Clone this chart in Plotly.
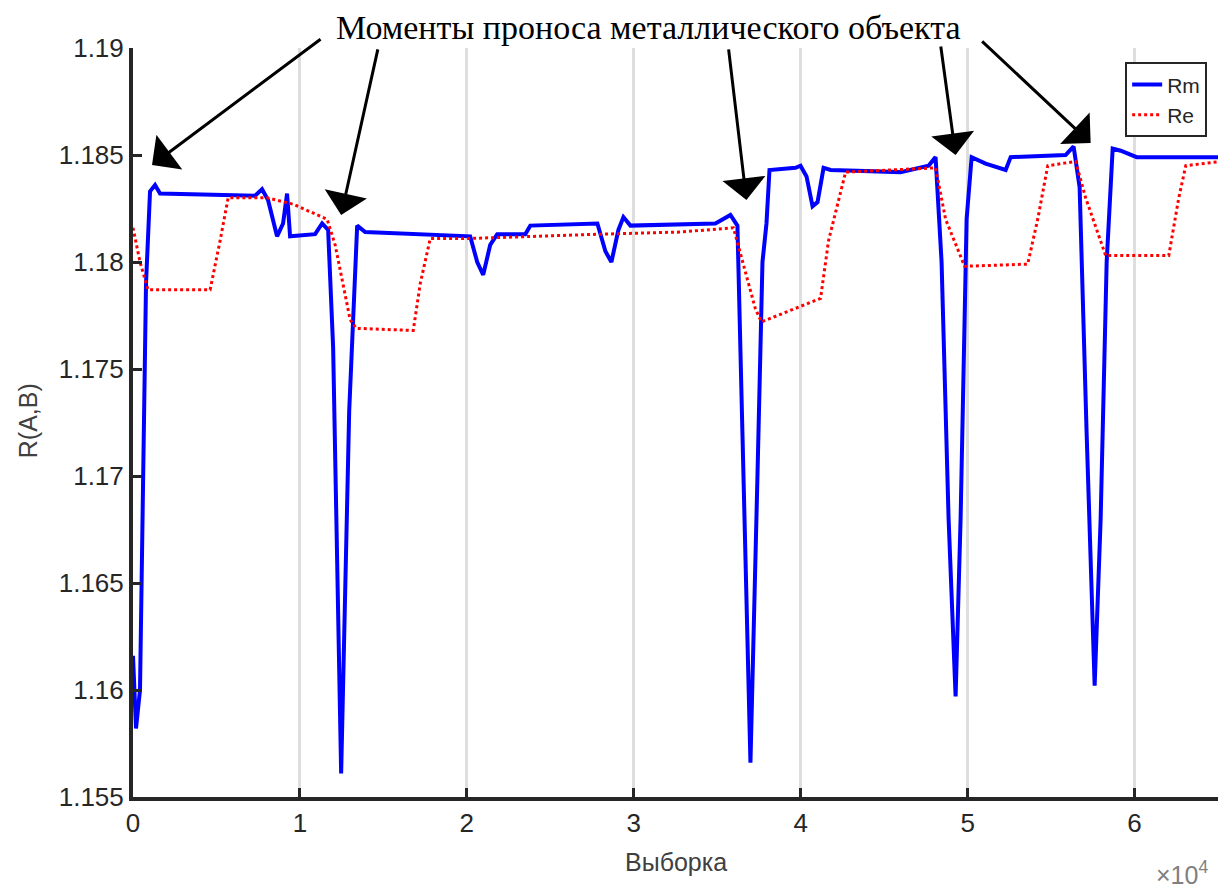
import plotly.graph_objects as go

# ---------------- data ----------------
rm_x = [0, 180, 420, 780, 1020, 1320, 1620, 7310, 7730, 8090, 8630, 8990, 9230, 9410,
        10910, 11330, 11690, 11990, 12470, 12950, 13430, 13910, 20200, 20620, 20980,
        21400, 21820, 23500, 23800, 27820, 28300, 28660, 29080, 29380, 29800, 34890,
        35790, 36210, 36510, 36990, 37410, 37710, 37950, 38130, 39690, 39990, 40350,
        40710, 41010, 41370, 41790, 45980, 47660, 48080, 48440, 48860, 49280, 49580,
        49940, 50240, 51080, 52280, 52580, 55870, 56350, 56710, 57130, 57610, 57970,
        58330, 58690, 59170, 60130, 65170]
rm_y = [1.1616, 1.1582, 1.1600, 1.1790, 1.1833, 1.1836, 1.1832, 1.1831, 1.1834, 1.1829,
        1.1812, 1.1818, 1.1832, 1.1812, 1.1813, 1.1818, 1.1815, 1.1760, 1.1561, 1.1730,
        1.1817, 1.1814, 1.1812, 1.1800, 1.1794, 1.1808, 1.1813, 1.1813, 1.1817, 1.1818,
        1.1805, 1.1800, 1.1815, 1.1821, 1.1817, 1.1818, 1.1822, 1.1817, 1.1720, 1.1566,
        1.1700, 1.1800, 1.1818, 1.1843, 1.1844, 1.1845, 1.1840, 1.1826, 1.1828, 1.1844,
        1.1843, 1.1842, 1.1845, 1.1849, 1.1800, 1.1680, 1.1597, 1.1680, 1.1820, 1.1849,
        1.1846, 1.1843, 1.1849, 1.1850, 1.1854, 1.1835, 1.1720, 1.1602, 1.1680, 1.1800,
        1.1853, 1.1852, 1.1849, 1.1849]

re_x = [0, 420, 900, 4620, 5220, 5700, 8030, 9590, 11630, 12110, 13010, 13370, 16790,
        17210, 17810, 20200, 28000, 32790, 35970, 36690, 37290, 37650, 41190, 41670,
        42690, 48080, 48680, 49820, 53600, 54200, 54800, 56470, 57070, 58270, 62050,
        62650, 63070, 65170]
re_y = [1.1816, 1.1800, 1.1787, 1.1787, 1.1810, 1.1830, 1.1830, 1.1827, 1.1820, 1.1808,
        1.1773, 1.1769, 1.1768, 1.1790, 1.1811, 1.1811, 1.1813, 1.1814, 1.1816, 1.1795,
        1.1778, 1.1772, 1.1783, 1.1810, 1.1842, 1.1844, 1.1820, 1.1798, 1.1799, 1.1820,
        1.1845, 1.1847, 1.1830, 1.1803, 1.1803, 1.1830, 1.1845, 1.1847]

# arrow heads (moments of passing the metal object) and tail offsets in px
event_x = [1140, 12470, 36750, 49280, 57370]
event_y = [1.18453, 1.18220, 1.18290, 1.18500, 1.18556]
tail_dx = [170, 37, -18, -15, -110]
tail_dy = [-127, -167, -152, -110, -103]

x_tick_vals = [0, 10000, 20000, 30000, 40000, 50000, 60000]
x_tick_text = ['0', '1', '2', '3', '4', '5', '6']
y_tick_vals = [1.155, 1.16, 1.165, 1.17, 1.175, 1.18, 1.185, 1.19]
y_tick_text = ['1.155', '1.16', '1.165', '1.17', '1.175', '1.18', '1.185', '1.19']

title_text = 'Моменты проноса металлического объекта'

# ---------------- figure ----------------
fig = go.Figure()
fig.add_trace(go.Scatter(x=rm_x, y=rm_y, mode='lines', name='Rm',
                         line=dict(color='#0000ff', width=4)))
fig.add_trace(go.Scatter(x=re_x, y=re_y, mode='lines', name='Re',
                         line=dict(color='#ff0000', width=3, dash='dot')))

tick_font = dict(family='Liberation Sans, Arial, sans-serif', size=26, color='#262626')

# the page body adds an 8px offset, so the figure is 8px smaller and shifted
fig.update_layout(
    width=1224, height=879,
    margin=dict(l=125, r=14, t=40, b=90),
    plot_bgcolor='white', paper_bgcolor='white',
    showlegend=True,
    legend=dict(x=0.99, y=0.981, xanchor='right', yanchor='top',
                bgcolor='white', bordercolor='#262626', borderwidth=2,
                font=dict(family='Liberation Sans, Arial, sans-serif', size=21, color='#262626'),
                tracegroupgap=0),
    xaxis=dict(range=[0, 65000], tickvals=x_tick_vals, ticktext=x_tick_text,
               showgrid=True, gridcolor='#dedede', gridwidth=3,
               ticks='inside', ticklen=9, tickwidth=3, tickcolor='#262626',
               showline=True, linecolor='#262626', linewidth=4, zeroline=False,
               tickfont=tick_font),
    yaxis=dict(range=[1.155, 1.19], tickvals=y_tick_vals, ticktext=y_tick_text,
               showgrid=False, ticks='inside', ticklen=9, tickwidth=3,
               tickcolor='#262626', showline=True, linecolor='#262626',
               linewidth=4, zeroline=False, tickfont=tick_font),
)

annotations = []
for hx, hy, dx, dy in zip(event_x, event_y, tail_dx, tail_dy):
    annotations.append(dict(x=hx, y=hy, xref='x', yref='y', ax=dx, ay=dy,
                            showarrow=True, arrowhead=1, arrowsize=2.4,
                            arrowwidth=3, arrowcolor='black', text='', standoff=0))

annotations.append(dict(x=0.4747, y=1.0534, xref='paper', yref='paper',
                        text=title_text, showarrow=False, xanchor='center', yanchor='top',
                        borderpad=0,
                        font=dict(family='Liberation Serif, Times New Roman, serif',
                                  size=34, color='black')))
annotations.append(dict(x=0.5, y=-0.087, xref='paper', yref='paper', text='Выборка',
                        showarrow=False, xanchor='center', yanchor='middle',
                        font=dict(family='Liberation Sans, Arial, sans-serif', size=25,
                                  color='#404040')))
annotations.append(dict(x=-0.0968, y=0.503, xref='paper', yref='paper', text='R(A,B)',
                        showarrow=False, textangle=-90, xanchor='center', yanchor='middle',
                        font=dict(family='Liberation Sans, Arial, sans-serif', size=25,
                                  color='#404040')))
annotations.append(dict(x=0.993, y=-0.101, xref='paper', yref='paper',
                        text='×10<sup>4</sup>', showarrow=False,
                        xanchor='right', yanchor='middle',
                        font=dict(family='Liberation Sans, Arial, sans-serif', size=25,
                                  color='#808080')))
fig.update_layout(annotations=annotations)

fig.write_html('out.html')
